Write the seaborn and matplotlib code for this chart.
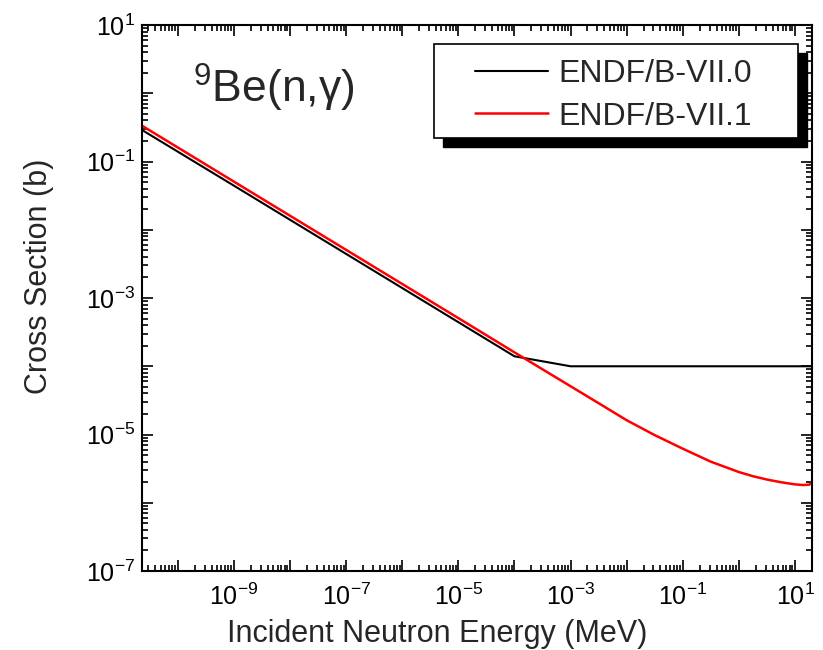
import matplotlib
matplotlib.use("Agg")
import math
import matplotlib.pyplot as plt
import matplotlib.ticker as mticker
from matplotlib.patches import Rectangle
import seaborn as sns
import pandas as pd

# Veriler
e_vii0 = [2.3e-11, 1.0e-9, 1.0e-7, 1.0e-5, 1.0e-4, 1.0e-3, 20.0]
xs_vii0 = [0.29, 0.0443, 4.43e-3, 4.43e-4, 1.40e-4, 1.0e-4, 1.0e-4]

e_vii1 = [2.3e-11, 1.0e-9, 1.0e-7, 1.0e-5, 1.0e-4, 1.0e-3, 3.16e-3, 1.0e-2,
          3.16e-2, 0.1, 0.316, 1.0, 1.78, 3.16, 5.62, 10.0, 14.1, 17.8, 20.0]
xs_vii1 = [0.335, 0.0508, 5.08e-3, 5.08e-4, 1.6e-4, 5.1e-5, 2.88e-5, 1.62e-5,
           9.8e-6, 6.2e-6, 4.0e-6, 2.82e-6, 2.45e-6, 2.19e-6, 2.0e-6,
           1.86e-6, 1.82e-6, 1.84e-6, 1.95e-6]

labels = ["ENDF/B-VII.0", "ENDF/B-VII.1"]
colors = ["black", "red"]

sns.set_theme(style="ticks")
plt.rcParams["font.family"] = ["Liberation Sans", "DejaVu Sans"]
plt.rcParams["mathtext.fontset"] = "custom"
plt.rcParams["mathtext.rm"] = "Liberation Sans"
plt.rcParams["mathtext.it"] = "Liberation Sans:italic"
plt.rcParams["mathtext.bf"] = "Liberation Sans:bold"

fig = plt.figure(figsize=(8.23, 6.5), dpi=100)
ax = fig.add_axes([0.1725, 0.1215, 0.814, 0.84])

df0 = pd.DataFrame({"E": e_vii0, "xs": xs_vii0})
df1 = pd.DataFrame({"E": e_vii1, "xs": xs_vii1})
sns.lineplot(data=df0, x="E", y="xs", color=colors[0], lw=1.5, label=labels[0], ax=ax)
sns.lineplot(data=df1, x="E", y="xs", color=colors[1], lw=1.8, label=labels[1], ax=ax)

ax.set_xscale("log")
ax.set_yscale("log")
ax.set_xlim(2.3e-11, 20)
ax.set_ylim(1e-7, 10)


def odd_exp(v, pos):
    k = int(round(math.log10(v)))
    if k % 2 != 0:
        return r"$10^{%d}$" % k
    return ""


for axis in (ax.xaxis, ax.yaxis):
    axis.set_major_locator(mticker.LogLocator(base=10, subs=(1.0,), numticks=30))
    axis.set_minor_locator(mticker.LogLocator(base=10, subs=range(2, 10), numticks=30))
    axis.set_major_formatter(mticker.FuncFormatter(odd_exp))
    axis.set_minor_formatter(mticker.NullFormatter())

ax.tick_params(which="both", direction="in", top=True, right=True, width=1.2,
               labelsize=18, colors="black")
ax.tick_params(which="major", length=8)
ax.tick_params(axis="x", which="major", pad=9)
ax.tick_params(axis="y", which="major", pad=5)
ax.tick_params(which="minor", length=4)
for s in ax.spines.values():
    s.set_linewidth(1.5)
    s.set_color("black")

ax.set_xlabel("Incident Neutron Energy (MeV)", fontsize=22)
ax.set_ylabel("Cross Section (b)", fontsize=22)
ax.xaxis.set_label_coords(0.44, -0.088)
ax.yaxis.set_label_coords(-0.132, 0.54)

ax.text(0.076, 0.857, r"$^{9}$Be(n,γ)", transform=ax.transAxes, fontsize=32,
        va="baseline", ha="left")

# legend kutusu + golge
bx, by, bw, bh = 0.436, 0.793, 0.543, 0.172
ax.add_patch(Rectangle((bx + 0.0134, by - 0.0165), bw, bh, transform=ax.transAxes,
                       facecolor="black", edgecolor="black", zorder=4, clip_on=False))
ax.add_patch(Rectangle((bx, by), bw, bh, transform=ax.transAxes,
                       facecolor="white", edgecolor="black", lw=1.2, zorder=5, clip_on=False))
leg = ax.legend(loc="center", bbox_to_anchor=(bx + bw / 2 - 0.004, by + bh / 2 - 0.008),
                frameon=False, fontsize=23, handlelength=2.3, handletextpad=0.3,
                labelspacing=0.38, borderpad=0)
leg.set_zorder(6)

fig.savefig("out.png", dpi=100)
